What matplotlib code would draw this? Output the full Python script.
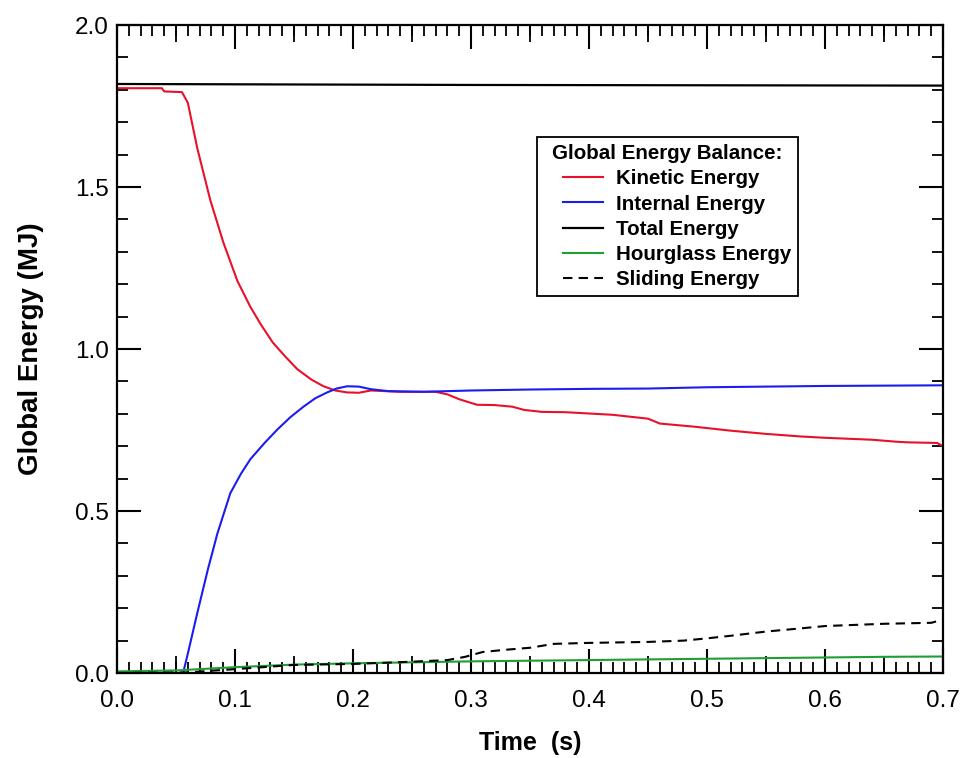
import numpy as np
import matplotlib
matplotlib.use('Agg')
import matplotlib.pyplot as plt
from matplotlib.ticker import MultipleLocator
from matplotlib.lines import Line2D
from matplotlib.legend_handler import HandlerLine2D

plt.rcParams['font.family'] = ['Liberation Sans', 'DejaVu Sans']

# kinetic energy (MJ) vs time (s)
t_kin = [0, 0.038, 0.04, 0.055, 0.06, 0.068, 0.079, 0.09, 0.102, 0.113, 0.122, 0.132,
         0.143, 0.153, 0.165, 0.175, 0.185, 0.195, 0.205, 0.215, 0.24, 0.27, 0.28, 0.29,
         0.305, 0.32, 0.335, 0.345, 0.36, 0.38, 0.42, 0.45, 0.46, 0.49, 0.52, 0.55, 0.58,
         0.6, 0.64, 0.66, 0.67, 0.695, 0.7]
e_kin = [1.805, 1.805, 1.795, 1.793, 1.76, 1.62, 1.46, 1.33, 1.21, 1.13, 1.075, 1.02,
         0.975, 0.937, 0.905, 0.885, 0.872, 0.866, 0.865, 0.872, 0.868, 0.868, 0.86, 0.845,
         0.828, 0.827, 0.822, 0.812, 0.806, 0.805, 0.797, 0.785, 0.77, 0.76, 0.748, 0.738, 0.73,
         0.726, 0.72, 0.714, 0.712, 0.71, 0.70]

# internal energy
t_int = [0, 0.056, 0.06, 0.068, 0.077, 0.085, 0.096, 0.105, 0.113, 0.125, 0.136, 0.147,
         0.158, 0.168, 0.178, 0.186, 0.195, 0.205, 0.215, 0.23, 0.26, 0.3, 0.35, 0.4, 0.45,
         0.5, 0.55, 0.6, 0.65, 0.7]
e_int = [0, 0, 0.06, 0.185, 0.32, 0.43, 0.555, 0.615, 0.66, 0.71, 0.752, 0.79,
         0.822, 0.848, 0.866, 0.878, 0.885, 0.884, 0.876, 0.87, 0.868, 0.872, 0.875, 0.877,
         0.878, 0.882, 0.884, 0.886, 0.887, 0.888]

# total energy
t_tot = [0, 0.3, 0.7]
e_tot = [1.818, 1.815, 1.813]

# hourglass energy
t_hg = [0, 0.05, 0.1, 0.15, 0.2, 0.25, 0.3, 0.35, 0.4, 0.45, 0.5, 0.55, 0.6, 0.65, 0.7]
e_hg = [0.005, 0.008, 0.018, 0.026, 0.03, 0.033, 0.036, 0.038, 0.04, 0.042, 0.044, 0.046,
        0.048, 0.05, 0.051]

# sliding energy
t_sl = [0, 0.06, 0.1, 0.15, 0.2, 0.25, 0.28, 0.295, 0.31, 0.33, 0.35, 0.37, 0.4, 0.45,
        0.48, 0.5, 0.52, 0.55, 0.58, 0.6, 0.65, 0.69, 0.7]
e_sl = [0, 0.002, 0.012, 0.025, 0.028, 0.035, 0.04, 0.05, 0.065, 0.072, 0.078, 0.09, 0.093,
        0.096, 0.1, 0.107, 0.115, 0.128, 0.138, 0.145, 0.152, 0.155, 0.165]

fig = plt.figure(figsize=(9.64, 7.58), dpi=100)
ax = fig.add_axes([0.1214, 0.1121, 0.8569, 0.8549])

ax.plot(t_kin, e_kin, color='#e8102a', lw=1.5, label='Kinetic Energy')
ax.plot(t_int, e_int, color='#1c1cf0', lw=1.5, label='Internal Energy')
ax.plot(t_tot, e_tot, color='black', lw=1.6, label='Total Energy')
ax.plot(t_hg, e_hg, color='#1f9e35', lw=1.5, label='Hourglass Energy')
ax.plot(t_sl, e_sl, color='black', lw=1.5, linestyle=(0, (4.5, 3)), label='Sliding Energy')

ax.set_xlim(0, 0.7)
ax.set_ylim(0, 2.0)
ax.xaxis.set_major_locator(MultipleLocator(0.1))
ax.xaxis.set_minor_locator(MultipleLocator(0.01))
ax.yaxis.set_major_locator(MultipleLocator(0.5))
ax.yaxis.set_minor_locator(MultipleLocator(0.1))
ax.xaxis.set_major_formatter(plt.FormatStrFormatter('%.1f'))
ax.yaxis.set_major_formatter(plt.FormatStrFormatter('%.1f'))
ax.tick_params(which='major', direction='in', length=17, width=1.5, top=True, right=True,
               labelsize=17.5, pad=6)
ax.tick_params(axis='x', which='major', pad=12)
ax.tick_params(which='minor', direction='in', length=8, width=1.3, top=True, right=True)
for s in ax.spines.values():
    s.set_linewidth(1.6)

# medium ticks at 0.05 on bottom and top
mid = np.arange(0.05, 0.7, 0.1)
for loc in ['bottom', 'top']:
    sec = ax.secondary_xaxis(loc)
    sec.set_xticks(mid)
    sec.tick_params(direction='in', length=12, width=1.3, labelbottom=False, labeltop=False)
    sec.spines[loc].set_visible(False)

ax.set_xlabel('Time  (s)', fontsize=18, fontweight='bold', labelpad=14)
ax.set_ylabel('Global Energy (MJ)', fontsize=20, fontweight='bold', labelpad=22)

leg = ax.legend(loc='upper left', bbox_to_anchor=(0.508, 0.827), fancybox=False,
                edgecolor='black', framealpha=1, title='Global Energy Balance:',
                prop={'weight': 'bold', 'size': 14.8}, handlelength=2.9,
                handletextpad=0.6, labelspacing=0.3, borderaxespad=0, borderpad=0.35,
                handler_map={Line2D: HandlerLine2D(xpad=0.95)})
leg.get_title().set_fontweight('bold')
leg.get_title().set_fontsize(14.8)
leg.get_frame().set_linewidth(1.3)

plt.savefig('out.png', dpi=100)
